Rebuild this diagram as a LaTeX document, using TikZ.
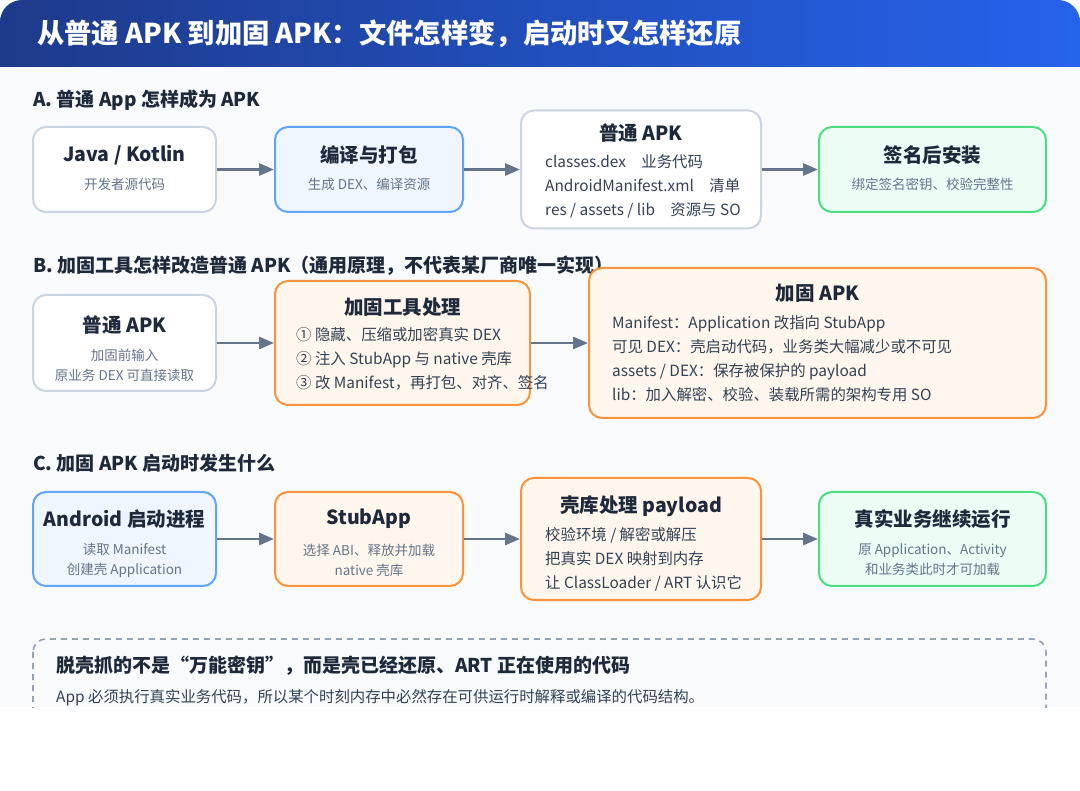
\documentclass[tikz,border=0pt]{standalone}
\usepackage{fontspec}
\setmainfont{Noto Sans CJK SC}
\usetikzlibrary{arrows.meta}
\definecolor{tdark}{HTML}{1E3A8A}
\definecolor{tblue}{HTML}{2563EB}
\definecolor{pagebg}{HTML}{F8FAFC}
\definecolor{ink}{HTML}{1E293B}
\definecolor{body}{HTML}{334155}
\definecolor{muted}{HTML}{64748B}
\definecolor{cardline}{HTML}{CBD5E1}
\definecolor{blueline}{HTML}{60A5FA}
\definecolor{bluebg}{HTML}{EFF6FF}
\definecolor{orangeline}{HTML}{FB923C}
\definecolor{orangebg}{HTML}{FFF7ED}
\definecolor{greenline}{HTML}{4ADE80}
\definecolor{greenbg}{HTML}{ECFDF5}
\definecolor{arrowc}{HTML}{64748B}
\definecolor{dashc}{HTML}{94A3B8}

\begin{document}
\begin{tikzpicture}[x=1pt,y=-1pt,
  card/.style={rounded corners=13pt,line width=2pt,inner sep=0pt},
  plain/.style={card,draw=cardline,fill=white},
  bluebox/.style={card,draw=blueline,fill=bluebg},
  orangebox/.style={card,draw=orangeline,fill=orangebg},
  greenbox/.style={card,draw=greenline,fill=greenbg},
  head/.style={anchor=west,inner sep=0pt,text=ink,font=\bfseries\fontsize{19}{23}\selectfont},
  ttl/.style={inner sep=0pt,text=ink,font=\bfseries\fontsize{19.5}{23}\selectfont},
  sub/.style={inner sep=0pt,text=muted,align=center,font=\fontsize{13.5}{20}\selectfont},
  lst/.style={anchor=west,inner sep=0pt,text=body,align=left,font=\fontsize{15.4}{24}\selectfont},
  arr/.style={-{Triangle[length=15pt,width=12pt]},draw=arrowc,line width=2.8pt},
]
\useasboundingbox (0,0) rectangle (1080,791);
\fill[white] (0,0) rectangle (1080,791);
\fill[pagebg] (0,67) rectangle (1080,707);

% title bar
\begin{scope}
  \clip (0,0) rectangle (1080,67);
  \shade[left color=tdark,right color=tblue,rounded corners=22pt] (0,0) rectangle (1080,110);
\end{scope}
\node[anchor=west,inner sep=0pt,text=white,font=\bfseries\fontsize{27.3}{32}\selectfont] (title) at (37,34) {从普通 APK 到加固 APK：文件怎样变，启动时又怎样还原};

% A
\node[head] (hA) at (33,100) {A. 普通 App 怎样成为 APK};
\node[plain, minimum width=183, minimum height=85] (a1) at (124.5,169.5) {};
\node[bluebox, minimum width=188, minimum height=85] (a2) at (369,169.5) {};
\node[plain, minimum width=240, minimum height=118] (a3) at (641,169.5) {};
\node[greenbox, minimum width=227, minimum height=85] (a4) at (932.5,169.5) {};

\node[ttl] (a1t) at (124.5,155) {Java / Kotlin};
\node[sub] (a1s) at (124.5,184) {开发者源代码};
\node[ttl] (a2t) at (369,155) {编译与打包};
\node[sub] (a2s) at (369,184) {生成 DEX、编译资源};
\node[ttl] (a3t) at (641,133) {普通 APK};
\node[lst] (a3l) at (545,186) {classes.dex\quad 业务代码\\AndroidManifest.xml\quad 清单\\res / assets / lib\quad 资源与 SO};
\node[ttl] (a4t) at (932.5,155) {签名后安装};
\node[sub] (a4s) at (932.5,184) {绑定签名密钥、校验完整性};

\draw[arr] (a1) -- (a2);
\draw[arr] (a2) -- (a3);
\draw[arr] (a3) -- (a4);

% B
\node[head] (hB) at (33,266) {B. 加固工具怎样改造普通 APK（通用原理，不代表某厂商唯一实现）};
\node[plain, minimum width=183, minimum height=96] (b1) at (124.5,343) {};
\node[orangebox, minimum width=255, minimum height=124] (b2) at (402.5,343) {};
\node[orangebox, minimum width=457, minimum height=150] (b3) at (817.5,343) {};

\node[ttl] (b1t) at (124.5,325) {普通 APK};
\node[sub] (b1s) at (124.5,365) {加固前输入\\原业务 DEX 可直接读取};
\node[ttl] (b2t) at (402.5,307) {加固工具处理};
\node[lst] (b2l) at (296,359) {① 隐藏、压缩或加密真实 DEX\\② 注入 StubApp 与 native 壳库\\③ 改 Manifest，再打包、对齐、签名};
\node[ttl] (b3t) at (817.5,293) {加固 APK};
\node[lst] (b3l) at (612,358.5) {Manifest：Application 改指向 StubApp\\可见 DEX：壳启动代码，业务类大幅减少或不可见\\assets / DEX：保存被保护的 payload\\lib：加入解密、校验、装载所需的架构专用 SO};

\draw[arr] (b1) -- (b2);
\draw[arr] (b2) -- (b3);

% C
\node[head] (hC) at (33,463) {C. 加固 APK 启动时发生什么};
\node[bluebox, minimum width=183, minimum height=94] (c1) at (124.5,539) {};
\node[orangebox, minimum width=188, minimum height=94] (c2) at (369,539) {};
\node[orangebox, minimum width=240, minimum height=122] (c3) at (641,539) {};
\node[greenbox, minimum width=227, minimum height=94] (c4) at (932.5,539) {};

\node[ttl] (c1t) at (124.5,519) {Android 启动进程};
\node[sub] (c1s) at (124.5,560) {读取 Manifest\\创建壳 Application};
\node[ttl] (c2t) at (369,519) {StubApp};
\node[sub] (c2s) at (369,560) {选择 ABI、释放并加载\\native 壳库};
\node[ttl] (c3t) at (641,506) {壳库处理 payload};
\node[lst] (c3l) at (545,559) {校验环境 / 解密或解压\\把真实 DEX 映射到内存\\让 ClassLoader / ART 认识它};
\node[ttl] (c4t) at (932.5,519) {真实业务继续运行};
\node[sub] (c4s) at (932.5,560) {原 Application、Activity\\和业务类此时才可加载};

\draw[arr] (c1) -- (c2);
\draw[arr] (c2) -- (c3);
\draw[arr] (c3) -- (c4);

% note, cut off at the bottom
\begin{scope}
  \clip (0,0) rectangle (1080,707);
  \draw[dashc, line width=1.6pt, dash pattern=on 6pt off 5pt, rounded corners=13pt] (33,639) rectangle (1046,780);
\end{scope}
\node[head] (nt) at (56,666) {脱壳抓的不是“万能密钥”，而是壳已经还原、ART 正在使用的代码};
\node[lst] (nb) at (56,698) {App 必须执行真实业务代码，所以某个时刻内存中必然存在可供运行时解释或编译的代码结构。};
\end{tikzpicture}
\end{document}
